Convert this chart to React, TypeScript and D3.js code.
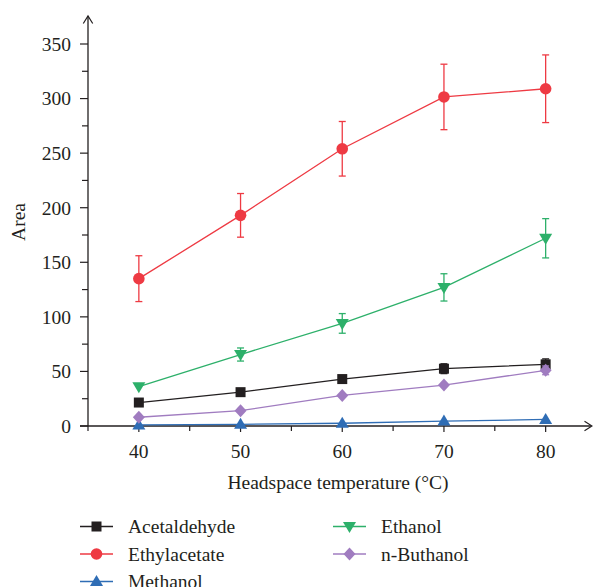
import React from 'react'
import * as d3 from 'd3'

// temperatures (°C)
const temps = [40, 50, 60, 70, 80]

const acetaldehyde = [21.5, 31, 43, 52.5, 56.5]
const acetaldehydeErr = [1.5, 1.5, 2, 4.5, 5]
const ethylacetate = [135, 193, 254, 301.5, 309]
const ethylacetateErr = [21, 20, 25, 30, 31]
const methanol = [1, 1.5, 2.5, 4.5, 6]
const methanolErr = [0, 0, 0, 0, 0]
const ethanol = [36, 65.5, 94, 127, 172]
const ethanolErr = [1, 6, 9, 12.5, 18]
const buthanol = [8, 14, 28, 37.5, 51]
const buthanolErr = [1, 1, 1.5, 1.5, 4]

const yTicks = [0, 50, 100, 150, 200, 250, 300, 350]

const series = [
  { name: 'Acetaldehyde', values: acetaldehyde, err: acetaldehydeErr, color: '#231f20', shape: 'square' },
  { name: 'Ethylacetate', values: ethylacetate, err: ethylacetateErr, color: '#ee3a43', shape: 'circle' },
  { name: 'Methanol', values: methanol, err: methanolErr, color: '#2f6db5', shape: 'up' },
  { name: 'Ethanol', values: ethanol, err: ethanolErr, color: '#2db06a', shape: 'down' },
  { name: 'n-Buthanol', values: buthanol, err: buthanolErr, color: '#a07cc0', shape: 'diamond' },
]

const W = 593
const H = 587
const axisColor = '#231f20'
const font = '"Liberation Serif", "DejaVu Serif", serif'
const fs = 19.5

const x = d3.scaleLinear().domain([35, 85]).range([88, 596.5])
const y = d3.scaleLinear().domain([0, 350]).range([426, 44])

function Marker({ shape, cx, cy, color }: { shape: string; cx: number; cy: number; color: string }) {
  if (shape === 'square') return <rect x={cx - 5} y={cy - 5} width={10} height={10} fill={color} />
  if (shape === 'circle') return <circle cx={cx} cy={cy} r={5.8} fill={color} />
  if (shape === 'up') return <path d={`M${cx},${cy - 6.5}L${cx + 6.5},${cy + 4.5}L${cx - 6.5},${cy + 4.5}Z`} fill={color} />
  if (shape === 'down') return <path d={`M${cx},${cy + 6.5}L${cx + 6.5},${cy - 4.5}L${cx - 6.5},${cy - 4.5}Z`} fill={color} />
  return <path d={`M${cx},${cy - 6.5}L${cx + 6},${cy}L${cx},${cy + 6.5}L${cx - 6},${cy}Z`} fill={color} />
}

export default function App() {
  const line = d3.line<number>().x((d, i) => x(temps[i])).y(d => y(d))
  const xMinor = d3.range(35, 86, 5)
  const yMinor = d3.range(0, 351, 25)
  const x0 = x(35)
  const y0 = y(0)

  return (
    <svg width={W} height={H} style={{ position: 'absolute', left: 0, top: 0 }} fontFamily={font}>
      <rect width={W} height={H} fill="#fff" />

      {/* axes */}
      <line x1={x0} x2={x0} y1={16} y2={y0} stroke={axisColor} strokeWidth={1.3} />
      <path d={`M${x0 - 4.7},23.5L${x0},16L${x0 + 4.7},23.5`} fill="none" stroke={axisColor} strokeWidth={1.2} />
      <line x1={80} x2={591} y1={y0} y2={y0} stroke={axisColor} strokeWidth={1.3} />
      <path d={`M584.5,${y0 - 4.7}L592,${y0}L584.5,${y0 + 4.7}`} fill="none" stroke={axisColor} strokeWidth={1.2} />

      {yMinor.map(v => (
        <line key={'yt' + v} x1={v % 50 === 0 ? 80 : 82} x2={x0} y1={y(v)} y2={y(v)} stroke={axisColor} strokeWidth={1.2} />
      ))}
      {yTicks.map(v => (
        <text key={'yl' + v} x={71} y={y(v)} dy="0.35em" textAnchor="end" fontSize={fs} fill={axisColor}>{v}</text>
      ))}
      {xMinor.filter(v => v < 85).map(v => (
        <line key={'xt' + v} x1={x(v)} x2={x(v)} y1={y0} y2={y0 + (v % 10 === 0 ? 6 : 5)} stroke={axisColor} strokeWidth={1.2} />
      ))}
      {temps.map(v => (
        <text key={'xl' + v} x={x(v)} y={457.5} textAnchor="middle" fontSize={fs} fill={axisColor}>{v}</text>
      ))}
      <text x={338} y={489} textAnchor="middle" fontSize={fs} fill={axisColor}>Headspace temperature (°C)</text>
      <text transform="translate(25,222) rotate(-90)" textAnchor="middle" fontSize={fs} fill={axisColor}>Area</text>

      {/* series */}
      {series.map(s => (
        <g key={s.name}>
          {s.values.map((v, i) =>
            s.err[i] > 2 ? (
              <g key={i} stroke={s.color} strokeWidth={1.3}>
                <line x1={x(temps[i])} x2={x(temps[i])} y1={y(v + s.err[i])} y2={y(v - s.err[i])} />
                <line x1={x(temps[i]) - 3.5} x2={x(temps[i]) + 3.5} y1={y(v + s.err[i])} y2={y(v + s.err[i])} />
                <line x1={x(temps[i]) - 3.5} x2={x(temps[i]) + 3.5} y1={y(v - s.err[i])} y2={y(v - s.err[i])} />
              </g>
            ) : null
          )}
          <path d={line(s.values) || ''} fill="none" stroke={s.color} strokeWidth={1.3} />
          {s.values.map((v, i) => (
            <Marker key={i} shape={s.shape} cx={x(temps[i])} cy={y(v)} color={s.color} />
          ))}
        </g>
      ))}

      {/* legend */}
      {series.map((s, i) => {
        const col = i < 3 ? 0 : 1
        const row = i < 3 ? i : i - 3
        const lx = col === 0 ? 80 : 333
        const ly = 526.5 + row * 27.5
        return (
          <g key={'lg' + s.name}>
            <line x1={lx} x2={lx + 33} y1={ly} y2={ly} stroke={s.color} strokeWidth={1.3} />
            <Marker shape={s.shape} cx={lx + 16.5} cy={ly} color={s.color} />
            <text x={lx + 48} y={ly} dy="0.35em" fontSize={fs} fill={axisColor}>{s.name}</text>
          </g>
        )
      })}
    </svg>
  )
}
